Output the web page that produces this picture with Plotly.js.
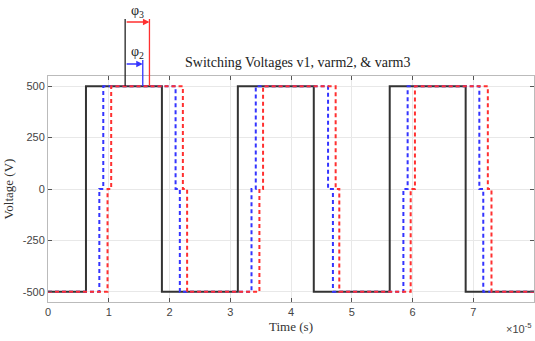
<!DOCTYPE html>
<html>
<head>
<meta charset="utf-8">
<script src="https://cdn.plot.ly/plotly-3.0.1.min.js"></script>
<style>html,body{margin:0;padding:0;background:#fff;}#chart{width:535px;height:341px;}</style>
</head>
<body>
<div id="chart"></div>
<script>
// Time in units of 1e-5 s, voltage in V (step signals, held until next sample)
var t_v1 = [0, 0.625, 1.875, 3.125, 4.375, 5.625, 6.875, 8];
var v_v1 = [-500, 500, -500, 500, -500, 500, -500, -500];

var t_varm2 = [0, 0.845, 0.91, 2.10, 2.17, 3.35, 3.42, 4.61, 4.69, 5.85, 5.92, 7.10, 7.165, 8];
var v_varm2 = [-500, 0, 500, 0, -500, 0, 500, 0, -500, 0, 500, 0, -500, -500];

var t_varm3 = [0, 0.98, 1.04, 2.22, 2.29, 3.48, 3.54, 4.735, 4.795, 5.97, 6.04, 7.24, 7.30, 8];
var v_varm3 = [-500, 0, 500, 0, -500, 0, 500, 0, -500, 0, 500, 0, -500, -500];

var xTicks = [0, 1, 2, 3, 4, 5, 6, 7, 8];
var yTicks = [-500, -250, 0, 250, 500];

// phase-shift markers (1e-5 s)
var phiRef = 1.27;
var phi2End = 1.56;
var phi3End = 1.67;

var serif = '"Liberation Serif", "Times New Roman", serif';
var sans = '"Liberation Sans", Arial, sans-serif';

var traces = [
  {x: t_v1, y: v_v1, mode: 'lines', line: {shape: 'hv', color: '#333333', width: 2}, name: 'v1'},
  {x: t_varm2, y: v_varm2, mode: 'lines', line: {shape: 'hv', color: '#3434ff', width: 2, dash: '4px,3px'}, name: 'varm2'},
  {x: t_varm3, y: v_varm3, mode: 'lines', line: {shape: 'hv', color: '#ff3030', width: 2, dash: '4px,3px'}, name: 'varm3'}
];

// plot area pixel geometry: top 76, bottom 302 (height 226)
function py(p) { return (302 - p) / 226; }

var layout = {
  width: 535, height: 341,
  margin: {l: 48, r: 1, t: 76, b: 39},
  paper_bgcolor: '#ffffff', plot_bgcolor: '#ffffff',
  showlegend: false,
  title: {
    text: 'Switching Voltages v1, varm2, & varm3',
    font: {family: serif, size: 14, color: '#222'},
    xref: 'paper', x: 0.514, xanchor: 'center',
    yref: 'container', y: 1 - 62 / 341, yanchor: 'middle'
  },
  xaxis: {
    range: [0, 8], tickvals: xTicks, ticktext: xTicks.map(String),
    ticks: 'inside', ticklen: 4, tickcolor: '#555', tickwidth: 1,
    showgrid: true, gridcolor: '#e8e8e8', gridwidth: 1,
    showline: true, linecolor: '#bbbbbb', linewidth: 1, mirror: 'ticks',
    zeroline: false,
    tickfont: {family: sans, size: 11, color: '#444'},
    title: {text: 'Time (s)', font: {family: serif, size: 13, color: '#333'}, standoff: 4}
  },
  yaxis: {
    range: [-550, 550], tickvals: yTicks, ticktext: yTicks.map(String),
    ticks: 'inside', ticklen: 4, tickcolor: '#555', tickwidth: 1,
    showgrid: true, gridcolor: '#e8e8e8', gridwidth: 1,
    showline: true, linecolor: '#bbbbbb', linewidth: 1, mirror: 'ticks',
    zeroline: false,
    tickfont: {family: sans, size: 11, color: '#444'},
    title: {text: 'Voltage (V)', font: {family: serif, size: 13, color: '#333'}, standoff: 6}
  },
  shapes: [
    {type: 'line', xref: 'x', yref: 'paper', x0: phiRef, x1: phiRef, y0: py(86), y1: py(19), line: {color: '#222', width: 1.3}},
    {type: 'line', xref: 'x', yref: 'paper', x0: phi3End, x1: phi3End, y0: py(86), y1: py(19), line: {color: '#ff3030', width: 1.3}},
    {type: 'line', xref: 'x', yref: 'paper', x0: phi2End, x1: phi2End, y0: py(86), y1: py(60), line: {color: '#3434ff', width: 1.3}}
  ],
  annotations: [
    {xref: 'x', yref: 'paper', x: phi3End, y: py(22), axref: 'x', ayref: 'pixel', ax: phiRef, ay: 0,
     text: '', showarrow: true, arrowhead: 2, arrowsize: 1, arrowwidth: 1.3, arrowcolor: '#ff3030', standoff: 0, startstandoff: 0},
    {xref: 'x', yref: 'paper', x: phi2End, y: py(64), axref: 'x', ayref: 'pixel', ax: phiRef, ay: 0,
     text: '', showarrow: true, arrowhead: 2, arrowsize: 1, arrowwidth: 1.3, arrowcolor: '#3434ff', standoff: 0, startstandoff: 0},
    {xref: 'x', yref: 'paper', x: (phiRef + phi3End) / 2, y: py(11), text: 'φ<sub>3</sub>', showarrow: false,
     font: {family: serif, size: 14, color: '#222'}, xanchor: 'center', yanchor: 'middle'},
    {xref: 'x', yref: 'paper', x: (phiRef + phi3End) / 2, y: py(52), text: 'φ<sub>2</sub>', showarrow: false,
     font: {family: serif, size: 14, color: '#222'}, xanchor: 'center', yanchor: 'middle'},
    {xref: 'paper', yref: 'paper', x: 1, y: py(328), text: '×10<sup>-5</sup>', showarrow: false,
     font: {family: sans, size: 11, color: '#444'}, xanchor: 'right', yanchor: 'middle'}
  ]
};

Plotly.newPlot('chart', traces, layout, {displayModeBar: false, staticPlot: true});
</script>
</body>
</html>
